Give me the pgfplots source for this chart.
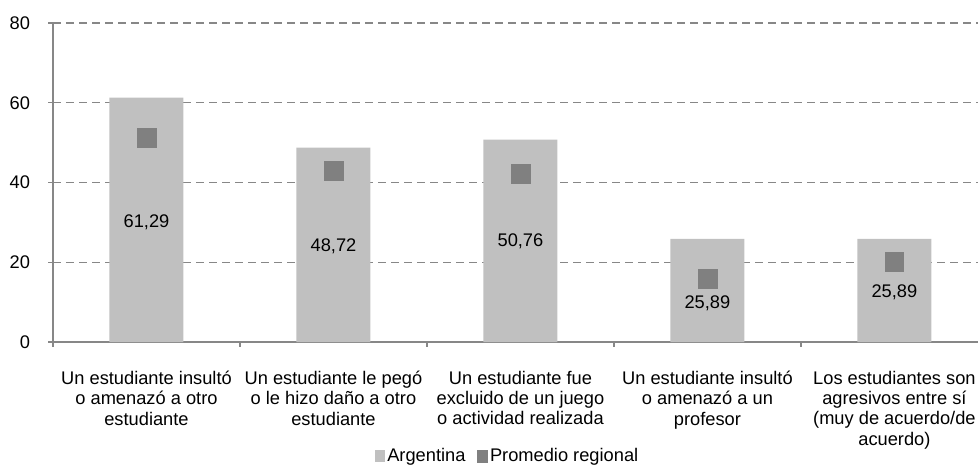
\documentclass[border=0pt]{standalone}
\usepackage{pgfplots}
\pgfplotsset{compat=1.18}
\usepackage{fontspec}
\setmainfont{Liberation Sans}
\definecolor{barc}{HTML}{C0C0C0}
\definecolor{sqc}{HTML}{808080}
\definecolor{axc}{HTML}{878787}
\begin{document}
\fontsize{13.7}{15.2}\selectfont
\begin{tikzpicture}
\begin{axis}[
  name=ax,
  scale only axis,
  width=693.75pt, height=239.25pt,
  xmin=-0.5, xmax=4.447,
  ymin=0, ymax=80,
  ytick={0,20,40,60,80},
  axis x line*=bottom, axis y line*=left,
  axis line style={axc, line width=0.9pt},
  every outer x axis line/.append style={-},
  every outer y axis line/.append style={-},
  tick align=outside,
  major tick length=3.5pt,
  ytick style={axc, line width=0.9pt},
  ymajorgrids,
  grid style={axc, dash pattern=on 6pt off 3.75pt, line width=0.9pt},
  xtick={0,1,2,3,4},
  major x tick style={draw=none},
  minor xtick={-0.5,0.5,1.5,2.5,3.5},
  minor tick length=3.5pt,
  minor x tick style={axc, line width=0.9pt},
  xticklabels={{Un estudiante insultó\\o amenazó a otro\\estudiante},
               {Un estudiante le pegó\\o le hizo daño a otro\\estudiante},
               {Un estudiante fue\\excluido de un juego\\o actividad realizada},
               {Un estudiante insultó\\o amenazó a un\\profesor},
               {Los estudiantes son\\agresivos entre sí\\(muy de acuerdo/de\\acuerdo)}},
  xticklabel style={align=center, yshift=-13.5pt, font=\fontsize{13.7}{15.2}\selectfont},
  yticklabel style={xshift=-9pt, font=\fontsize{13.7}{15.2}\selectfont},
  /pgf/number format/assume math mode=true,
  legend style={at={(0.492,-0.358)}, anchor=center, draw=none, legend columns=2,
    font=\fontsize{13.7}{15.2}\selectfont, inner sep=0pt, fill=none,
    /tikz/every even column/.append style={column sep=7pt}},
  legend cell align=left,
  clip=false,
]
\addplot[ybar, bar width=55.5pt, fill=barc, draw=none,
  legend image code/.code={\fill[barc] (0pt,-4.5pt) rectangle (7pt,4.5pt);}]
  coordinates {(0,61.29) (1,48.72) (2,50.76) (3,25.89) (4,25.89)};
\addlegendentry{Argentina}
\addplot[only marks, mark=square*, mark size=7pt, mark options={fill=sqc, draw=sqc},
  legend image code/.code={\fill[sqc] (0pt,-4.5pt) rectangle (7pt,4.5pt);}]
  coordinates {(0,51.2) (1,43.0) (2,42.2) (3,15.9) (4,20.1)};
\addlegendentry{Promedio regional}
\node at (axis cs:0,30) {61,29};
\node at (axis cs:1,24) {48,72};
\node at (axis cs:2,25.25) {50,76};
\node at (axis cs:3,9.75) {25,89};
\node at (axis cs:4,12.5) {25,89};
\end{axis}
\pgfresetboundingbox
\path[use as bounding box] ([xshift=-39.75pt,yshift=17.25pt]ax.north west) rectangle ([xshift=1.5pt,yshift=-91.5pt]ax.south east);
\end{tikzpicture}
\end{document}
